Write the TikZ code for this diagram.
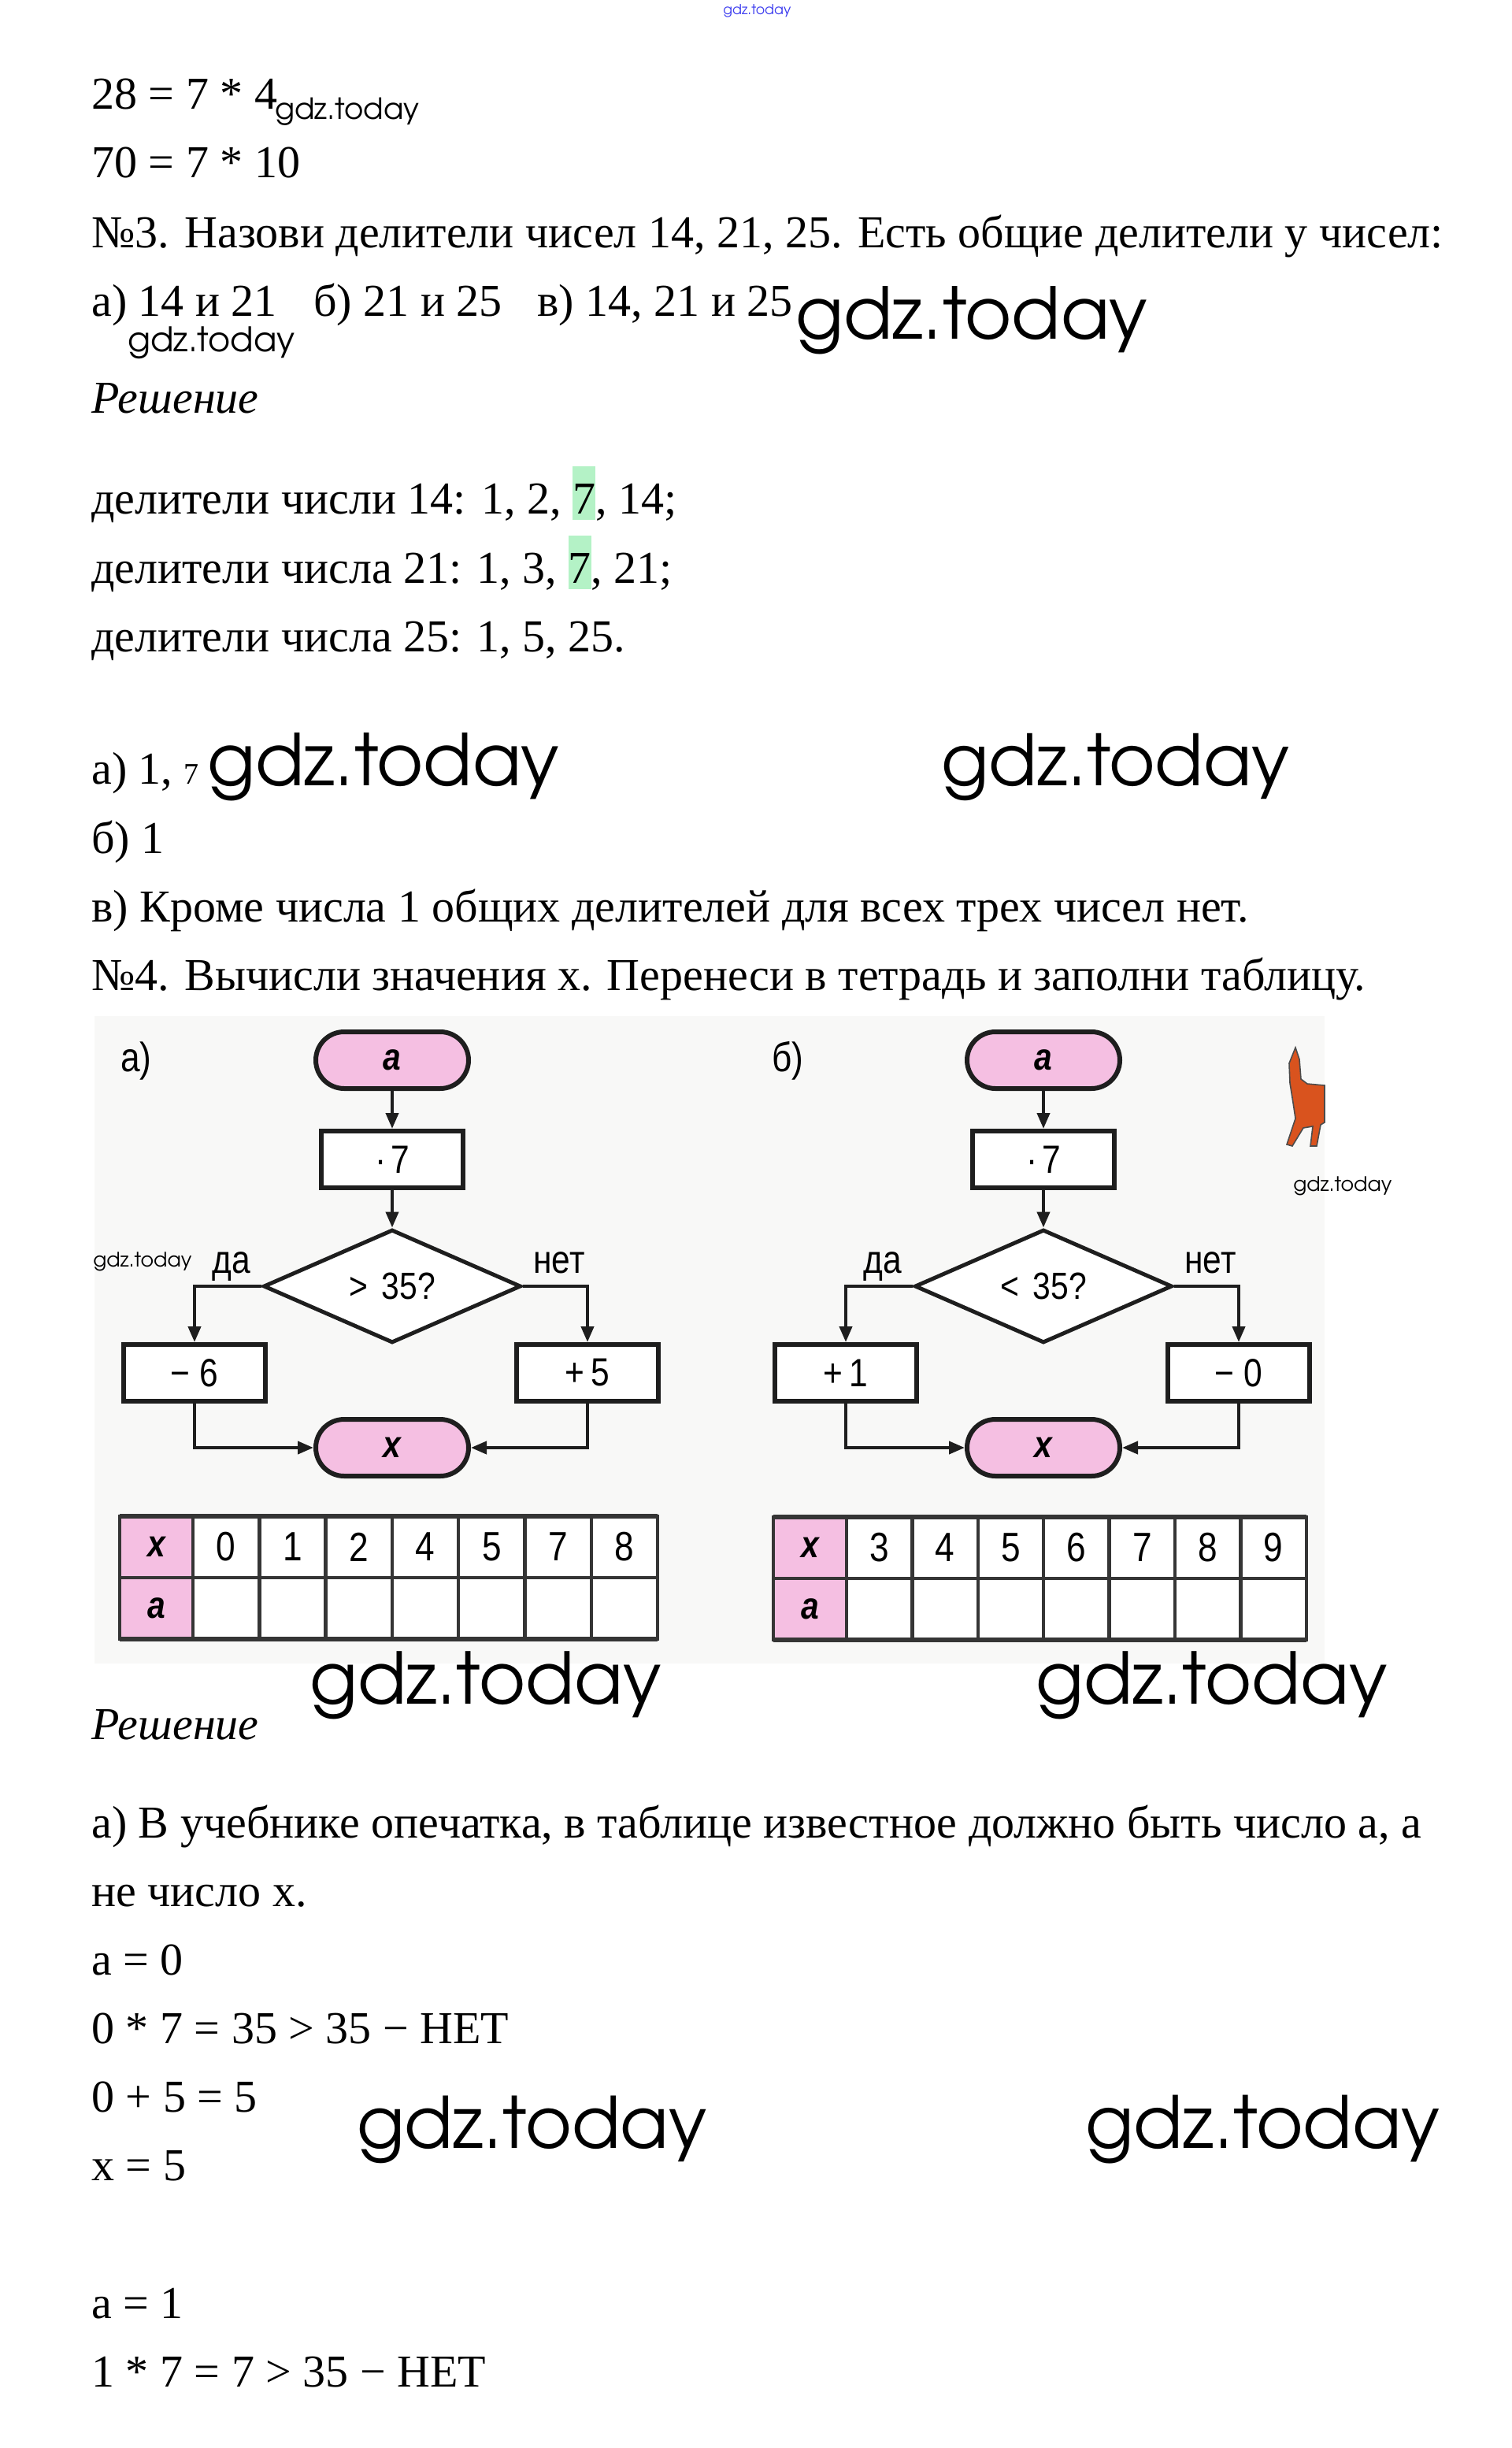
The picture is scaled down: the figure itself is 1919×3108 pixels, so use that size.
\documentclass[tikz,border=0pt]{standalone}
\usepackage{fontspec}
\setmainfont{Liberation Serif}
\IfFontExistsTF{TeX Gyre Adventor}{\newfontfamily\wm{TeX Gyre Adventor}}{\newfontfamily\wm{Poppins}}
\newfontfamily\fc[FakeStretch=0.85]{Liberation Sans}
\usetikzlibrary{arrows.meta,shapes.geometric}
\definecolor{pinkf}{HTML}{F5BFE2}
\definecolor{hl}{HTML}{B4F2C6}
\definecolor{scanbg}{HTML}{F8F8F7}
\definecolor{ink}{HTML}{1E1E1E}
\definecolor{catc}{HTML}{D9531E}
\definecolor{wmblue}{HTML}{3B3BEF}
\tikzset{
 txt/.style={anchor=base west, inner sep=0pt, font=\fontsize{29}{44}\selectfont},
 wmk/.style={anchor=base west, inner sep=0pt},
 opbox/.style={draw=ink, line width=3pt, fill=white, minimum width=90pt, minimum height=36pt, inner sep=0pt, font=\fc\fontsize{25}{28}\selectfont},
 term/.style={draw=ink, line width=3pt, fill=pinkf, rounded corners=18pt, minimum width=97pt, minimum height=36pt, inner sep=0pt, font=\fc\bfseries\itshape\fontsize{24}{28}\selectfont},
 cond/.style={diamond, draw=ink, line width=2.5pt, fill=white, minimum width=163.5pt, minimum height=69.5pt, inner sep=0pt, font=\fc\fontsize{24}{28}\selectfont},
 flow/.style={draw=ink, line width=2pt, -{Triangle[length=10pt,width=8pt]}},
 ylab/.style={anchor=base, inner sep=0pt, font=\fc\fontsize{25}{28}\selectfont},
 plab/.style={anchor=base west, inner sep=0pt, font=\fc\fontsize{26}{28}\selectfont},
 tcell/.style={inner sep=0pt, font=\fc\fontsize{26}{28}\selectfont},
 tvar/.style={inner sep=0pt, font=\fc\bfseries\itshape\fontsize{24}{28}\selectfont},
 tline/.style={draw=ink!90, line width=2.2pt},
}
\newcommand\flowpanel[6]{%
\begin{scope}[shift={(#2,0)}]
 \node[plab] (#1lab) at (153,1360) {#3};
 \node[term] (#1ta) at (498,1346) {a};
 \node[opbox] (#1m7) at (498,1472) {·\hspace{3pt}7};
 \node[cond] (#1dia) at (498,1633) {#4};
 \node[opbox] (#1lb) at (247,1743) {#5};
 \node[opbox] (#1rb) at (746,1743) {#6};
 \node[term] (#1tx) at (498,1838) {x};
 \node[ylab] (#1da) at (294,1616) {да};
 \node[ylab] (#1net) at (710,1616) {нет};
 \draw[flow] (#1ta) -- (#1m7);
 \draw[flow] (#1m7) -- (#1dia);
 \draw[flow] (#1dia.west) -| (#1lb.north);
 \draw[flow] (#1dia.east) -| (#1rb.north);
 \draw[flow] (#1lb.south) |- (#1tx.west);
 \draw[flow] (#1rb.south) |- (#1tx.east);
\end{scope}}
\newcommand\numtable[5]{%
 \fill[pinkf] (#2,#3) rectangle ++(93,156);
 \fill[white] ({#2+93},#3) rectangle ++({7*#4},156);
 \node[tvar] (#1hx) at ({#2+46.5},{#3+39}) {x};
 \node[tvar] (#1ha) at ({#2+46.5},{#3+117}) {a};
 \foreach \v [count=\i] in {#5} {\node[tcell] (#1c\i) at ({#2+93+(\i-0.5)*#4},{#3+39}) {\v};}
 \draw[tline] (#2,#3) rectangle ++({93+7*#4},156);
 \draw[tline, line width=3pt] (#2,#3) -- ++({93+7*#4},0);
 \draw[tline, line width=3pt] (#2,{#3+156}) -- ++({93+7*#4},0);
 \draw[tline] (#2,{#3+78}) -- ++({93+7*#4},0);
 \foreach \i in {0,...,6} {\draw[tline] ({#2+93+\i*#4},#3) -- ++(0,156);}
}
\newcommand\hlseven{{\setlength\fboxsep{0pt}\colorbox{hl}{\rule[-4pt]{0pt}{34pt}7}}}
\begin{document}
\begin{tikzpicture}[x=0.5pt,y=-0.5pt]
\useasboundingbox (0,0) rectangle (1919,3108);
\fill[white] (0,0) rectangle (1919,3108);
% top tiny watermark
\node[wmk, text=wmblue] (wtop) at (918,19) {\resizebox{43pt}{!}{\wm gdz.today}};
% text block 1
\node[txt] (l1) at (116,139) {28 = 7 * 4};
\node[wmk] (w1) at (349,152) {\resizebox{91.5pt}{!}{\wm gdz.today}};
\node[txt] (l2) at (116,226) {70 = 7 * 10};
\node[txt] (l3) at (116,315) {№3. Назови делители чисел 14, 21, 25. Есть общие делители у чисел:};
\node[txt] (l4a) at (116,402) {а) 14 и 21};
\node[txt] (l4b) at (398,402) {б) 21 и 25};
\node[txt] (l4c) at (682,402) {в) 14, 21 и 25};
\node[wmk] (w2) at (162,447) {\resizebox{106pt}{!}{\wm gdz.today}};
\node[wmk] (w3) at (1010,430) {\resizebox{223.5pt}{!}{\wm gdz.today}};
\node[txt] (r1) at (116,524) {\itshape Решение};
\node[txt] (d1) at (116,652) {делители числи 14: 1, 2, \hlseven, 14;};
\node[txt] (d2) at (116,740) {делители числа 21: 1, 3, \hlseven, 21;};
\node[txt] (d3) at (116,827) {делители числа 25: 1, 5, 25.};
\node[txt] (a1) at (116,995) {а) 1, {\fontsize{19}{20}\selectfont 7}};
\node[wmk] (w4) at (263,997) {\resizebox{223.5pt}{!}{\wm gdz.today}};
\node[wmk] (w5) at (1195,997) {\resizebox{221pt}{!}{\wm gdz.today}};
\node[txt] (b1) at (116,1083) {б) 1};
\node[txt] (v1) at (116,1170) {в) Кроме числа 1 общих делителей для всех трех чисел нет.};
\node[txt] (n4) at (116,1257) {№4. Вычисли значения х. Перенеси в тетрадь и заполни таблицу.};
% scanned figure
\fill[scanbg] (120,1290) rectangle (1682,2112);
\flowpanel{A}{0}{а)}{>\hspace{9pt}35?}{−\hspace{6pt}6}{+\hspace{4pt}5}
\flowpanel{B}{827}{б)}{<\hspace{9pt}35?}{+\hspace{4pt}1}{−\hspace{6pt}0}
\numtable{L}{152}{1925}{84.3}{0,1,2,4,5,7,8}
\numtable{R}{982}{1926}{83.4}{3,4,5,6,7,8,9}
% cat
\filldraw[fill=catc, draw=black!70, line width=0.8pt] (1645,1330) -- (1650,1345) -- (1652,1370) -- (1660,1376) -- (1682,1378) -- (1682,1425) -- (1677,1428) -- (1672,1455) -- (1664,1455) -- (1667,1430) -- (1655,1432) -- (1641,1455) -- (1634,1453) -- (1645,1420) -- (1642,1400) -- (1638,1375) -- (1637,1350) -- cycle;
\node[wmk] (w6) at (1642,1512) {\resizebox{62.5pt}{!}{\wm gdz.today}};
\node[wmk] (w7) at (118,1608) {\resizebox{62.5pt}{!}{\wm gdz.today}};
% below figure
\node[wmk] (w8) at (393,2163) {\resizebox{223pt}{!}{\wm gdz.today}};
\node[wmk] (w9) at (1315,2163) {\resizebox{223pt}{!}{\wm gdz.today}};
\node[txt] (r2) at (116,2208) {\itshape Решение};
\node[txt] (s1) at (116,2333) {а) В учебнике опечатка, в таблице известное должно быть число а, а};
\node[txt] (s2) at (116,2420) {не число х.};
\node[txt] (s3) at (116,2507) {а = 0};
\node[txt] (s4) at (116,2594) {0 * 7 = 35 > 35 − НЕТ};
\node[txt] (s5) at (116,2681) {0 + 5 = 5};
\node[wmk] (w10) at (453,2727) {\resizebox{222pt}{!}{\wm gdz.today}};
\node[wmk] (w11) at (1378,2727) {\resizebox{225pt}{!}{\wm gdz.today}};
\node[txt] (s6) at (116,2768) {х = 5};
\node[txt] (s7) at (116,2943) {а = 1};
\node[txt] (s8) at (116,3030) {1 * 7 = 7 > 35 − НЕТ};
\end{tikzpicture}
\end{document}
